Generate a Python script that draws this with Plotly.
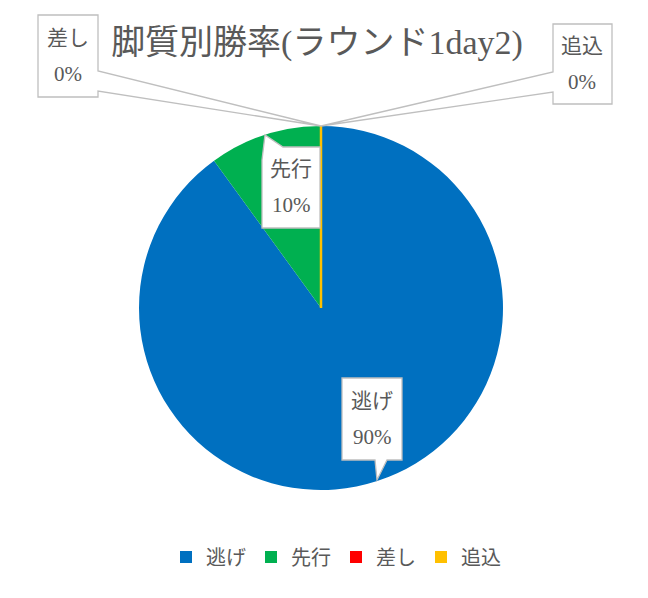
import plotly.graph_objects as go

# data
styles = ['逃げ', '先行', '差し', '追込']
win_rates = [90, 10, 0, 0]
colors = ['#0070C0', '#00B050', '#FF0000', '#FFC000']

# the page body has an 8px margin, so work in reference pixels and shift
OFF = 8
W, H = 648 - OFF, 598 - OFF
cx, cy, rad = 321, 308, 182  # pie centre / radius (reference px)
FONT = 'Liberation Serif, Noto Sans CJK JP'
GRAY = '#595959'
EDGE = '#BFBFBF'


def px(x, y):
    """reference pixel -> paper coords"""
    return (x - OFF) / W, 1 - (y - OFF) / H


fig = go.Figure()
x0, y1 = px(cx - rad, cy - rad)
x1, y0 = px(cx + rad, cy + rad)
fig.add_trace(go.Pie(
    labels=styles,
    values=win_rates,
    sort=False,
    direction='clockwise',
    rotation=0,
    marker=dict(colors=colors, line=dict(width=0)),
    textinfo='none',
    hoverinfo='label+percent',
    domain=dict(x=[x0, x1], y=[y0, y1]),
))

# zero-width 追込 slice shows as a thin line at 12 o'clock
lx0, ly0 = px(cx, cy)
lx1, ly1 = px(cx, cy - rad)
fig.add_shape(type='line', xref='paper', yref='paper',
              x0=lx0, y0=ly0, x1=lx1, y1=ly1,
              line=dict(color='#FFC000', width=2.5))

top = (cx, cy - rad)
# callout outlines (box with tail), reference px, plus box centre
callouts = {
    '差し': ([(38, 15), (98, 15), (98, 71), top, (98, 91), (98, 97), (38, 97)], (68, 56)),
    '追込': ([(553, 24), (612, 24), (612, 104), (553, 104), (553, 92), top, (553, 72)], (582, 64)),
    '先行': ([(283, 147), (320, 147), (320, 228), (262, 228), (262, 160), (265, 135)], (291, 187)),
    '逃げ': ([(342, 378), (402, 378), (402, 460), (387, 460), (377, 480), (375, 460), (342, 460)], (372, 419)),
}
for name, (pts, (bx, by)) in callouts.items():
    path = ' '.join(('M' if i == 0 else 'L') + '%.5f,%.5f' % px(*p) for i, p in enumerate(pts)) + ' Z'
    fig.add_shape(type='path', path=path, xref='paper', yref='paper',
                  fillcolor='white', line=dict(color=EDGE, width=1.3), layer='above')
    val = win_rates[styles.index(name)]
    for txt, dy in [(name, -18), (f'{val}%', 18)]:
        tx, ty = px(bx, by + dy)
        fig.add_annotation(x=tx, y=ty, xref='paper', yref='paper', text=txt,
                           showarrow=False, xanchor='center', yanchor='middle',
                           font=dict(family=FONT, size=21, color=GRAY))

tx, ty = px(317, 42)
ly = px(0, 557)[1]
fig.update_layout(
    width=W, height=H,
    margin=dict(l=0, r=0, t=0, b=0),
    paper_bgcolor='white',
    title=dict(text='脚質別勝率(ラウンド1day2)', x=tx, xanchor='center',
               y=ty, yanchor='middle',
               font=dict(family=FONT, size=34, color=GRAY)),
    showlegend=True,
    legend=dict(orientation='h', x=px(336, 0)[0], xanchor='center',
                y=ly, yanchor='middle',
                font=dict(family=FONT, size=20, color=GRAY),
                itemwidth=30, entrywidth=40, entrywidthmode='pixels'),
)

fig.write_html('out.html')
